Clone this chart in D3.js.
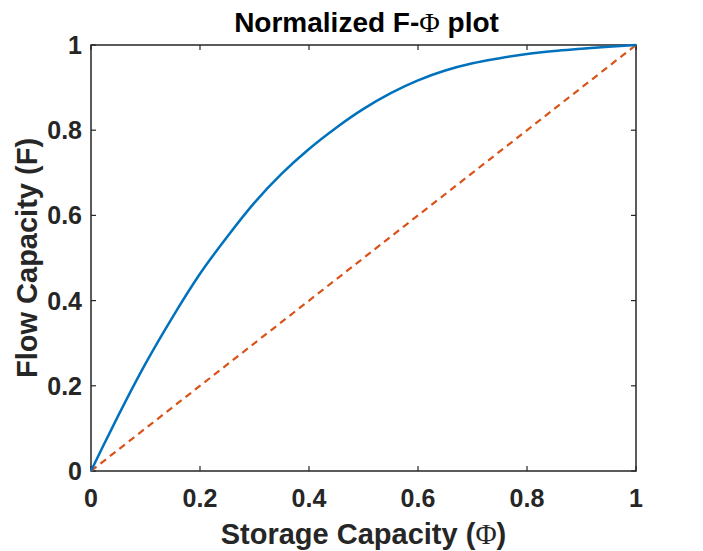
<!DOCTYPE html>
<html>
<head>
<meta charset="utf-8">
<script src="https://cdn.jsdelivr.net/npm/d3@7"></script>
<style>
  body { margin: 0; background: #fff; }
  text { font-family: "Liberation Sans", Arial, Helvetica, sans-serif; font-weight: bold; }
</style>
</head>
<body>
<div id="chart"></div>
<script>
// storage capacity (phi) and flow capacity (F)
var phiValues = [0, 0.02, 0.05, 0.1, 0.15, 0.2, 0.25, 0.3, 0.35, 0.4, 0.45, 0.5, 0.55, 0.6, 0.65, 0.7, 0.75, 0.8, 0.85, 0.9, 0.95, 1];
var flowValues = [0, 0.053, 0.13, 0.252, 0.362, 0.463, 0.55, 0.63, 0.698, 0.756, 0.806, 0.85, 0.887, 0.917, 0.94, 0.957, 0.969, 0.979, 0.986, 0.991, 0.996, 1];
// reference line F = phi
var diagPhi = [0, 1];
var diagFlow = [0, 1];
var tickValues = [0, 0.2, 0.4, 0.6, 0.8, 1];

var w = 703, h = 551;
var margin = {left: 91, right: 67, top: 45, bottom: 80};
var axisColor = "#262626";

var svg = d3.select("#chart").append("svg")
  .attr("width", w)
  .attr("height", h);

var x = d3.scaleLinear().domain([0, 1]).range([margin.left, w - margin.right]);
var y = d3.scaleLinear().domain([0, 1]).range([h - margin.bottom, margin.top]);

var tickFmt = function(d){ return d === 0 || d === 1 ? String(d) : d.toFixed(1); };

// box
svg.append("rect")
  .attr("x", x(0)).attr("y", y(1))
  .attr("width", x(1) - x(0)).attr("height", y(0) - y(1))
  .attr("fill", "none").attr("stroke", axisColor).attr("stroke-width", 1.5);

// inward ticks on all four sides
var tickLen = 5;
tickValues.forEach(function(t){
  [[x(t), y(0), x(t), y(0) - tickLen], [x(t), y(1), x(t), y(1) + tickLen],
   [x(0), y(t), x(0) + tickLen, y(t)], [x(1), y(t), x(1) - tickLen, y(t)]].forEach(function(s){
    svg.append("line")
      .attr("x1", s[0]).attr("y1", s[1]).attr("x2", s[2]).attr("y2", s[3])
      .attr("stroke", axisColor).attr("stroke-width", 1.2);
  });
});

// tick labels
svg.append("g").selectAll("text").data(tickValues).enter().append("text")
  .attr("x", function(d){ return x(d); })
  .attr("y", y(0) + 36)
  .attr("text-anchor", "middle")
  .attr("font-size", 25)
  .attr("fill", axisColor)
  .text(tickFmt);

svg.append("g").selectAll("text").data(tickValues).enter().append("text")
  .attr("x", x(0) - 9)
  .attr("y", function(d){ return y(d) + 9; })
  .attr("text-anchor", "end")
  .attr("font-size", 25)
  .attr("fill", axisColor)
  .text(tickFmt);

// lines
var line = d3.line()
  .x(function(d){ return x(d[0]); })
  .y(function(d){ return y(d[1]); })
  .curve(d3.curveMonotoneX);

svg.append("path")
  .datum(d3.zip(diagPhi, diagFlow))
  .attr("d", line)
  .attr("fill", "none")
  .attr("stroke", "#D95319")
  .attr("stroke-width", 2.2)
  .attr("stroke-dasharray", "7,5");

svg.append("path")
  .datum(d3.zip(phiValues, flowValues))
  .attr("d", line)
  .attr("fill", "none")
  .attr("stroke", "#0072BD")
  .attr("stroke-width", 2.5);

// title and axis labels
var title = svg.append("text")
  .attr("x", (x(0) + x(1)) / 2 + 3)
  .attr("y", 32)
  .attr("text-anchor", "middle")
  .attr("font-size", 28)
  .attr("fill", "#000");
title.append("tspan").text("Normalized F-");
title.append("tspan").attr("font-family", "'Liberation Serif', 'Times New Roman', serif").attr("font-weight", "normal").text("\u03A6");
title.append("tspan").text(" plot");

var xl = svg.append("text")
  .attr("x", (x(0) + x(1)) / 2)
  .attr("y", 544)
  .attr("text-anchor", "middle")
  .attr("font-size", 29)
  .attr("fill", axisColor);
xl.append("tspan").text("Storage Capacity (");
xl.append("tspan").attr("font-family", "'Liberation Serif', 'Times New Roman', serif").attr("font-weight", "normal").text("\u03A6");
xl.append("tspan").text(")");

svg.append("text")
  .attr("transform", "translate(37," + ((y(0) + y(1)) / 2) + ") rotate(-90)")
  .attr("text-anchor", "middle")
  .attr("font-size", 29)
  .attr("fill", axisColor)
  .text("Flow Capacity (F)");
</script>
</body>
</html>
